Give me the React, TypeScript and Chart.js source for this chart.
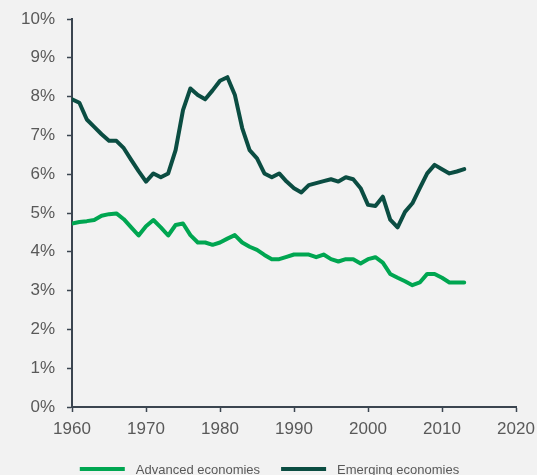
import React, { useEffect, useRef } from "react";
import { Chart, registerables } from "chart.js";

Chart.register(...registerables);

const years = [
  1960, 1961, 1962, 1963, 1964, 1965, 1966, 1967, 1968, 1969,
  1970, 1971, 1972, 1973, 1974, 1975, 1976, 1977, 1978, 1979,
  1980, 1981, 1982, 1983, 1984, 1985, 1986, 1987, 1988, 1989,
  1990, 1991, 1992, 1993, 1994, 1995, 1996, 1997, 1998, 1999,
  2000, 2001, 2002, 2003, 2004, 2005, 2006, 2007, 2008, 2009,
  2010, 2011, 2012, 2013,
];

const advanced = [
  4.73, 4.77, 4.79, 4.82, 4.93, 4.97, 4.99, 4.84, 4.63, 4.42,
  4.66, 4.82, 4.63, 4.42, 4.69, 4.73, 4.43, 4.24, 4.24, 4.18,
  4.24, 4.34, 4.43, 4.24, 4.13, 4.05, 3.92, 3.81, 3.81, 3.87,
  3.93, 3.93, 3.93, 3.86, 3.93, 3.81, 3.75, 3.81, 3.81, 3.70,
  3.81, 3.86, 3.72, 3.43, 3.33, 3.24, 3.14, 3.21, 3.43, 3.43,
  3.33, 3.21, 3.21, 3.21,
];

const emerging = [
  7.93, 7.84, 7.41, 7.22, 7.03, 6.86, 6.86, 6.67, 6.37, 6.08,
  5.81, 6.02, 5.92, 6.02, 6.62, 7.65, 8.21, 8.04, 7.93, 8.16,
  8.41, 8.5, 8.05, 7.19, 6.62, 6.41, 6.02, 5.92, 6.02, 5.81,
  5.64, 5.53, 5.72, 5.77, 5.82, 5.87, 5.81, 5.92, 5.87, 5.64,
  5.21, 5.18, 5.42, 4.83, 4.63, 5.03, 5.25, 5.64, 6.02, 6.24,
  6.13, 6.02, 6.07, 6.13,
];

const seriesNames = ["Advanced economies", "Emerging economies"];
const seriesColors = ["#00a651", "#0b4d42"];

const xTicks = [1960, 1970, 1980, 1990, 2000, 2010, 2020];
const yTicks = [0, 1, 2, 3, 4, 5, 6, 7, 8, 9, 10];

const FONT = "'Liberation Sans', Arial, Helvetica, sans-serif";
const AXIS = "#3b4550";
const TEXT = "#595959";
const BG = "#f2f2f2";

const legendPlugin = {
  id: "customLegend",
  afterDraw(chart: any) {
    const ctx = chart.ctx;
    ctx.save();
    ctx.font = `13px ${FONT}`;
    const boxW = 45;
    const gap = 11;
    const itemGap = 21;
    const items = chart.data.datasets.map((d: any) => ({
      label: d.label,
      color: d.borderColor,
      w: ctx.measureText(d.label).width,
    }));
    let total = 0;
    items.forEach((it: any, i: number) => {
      total += boxW + gap + it.w + (i < items.length - 1 ? itemGap : 0);
    });
    let x = (chart.width - total) / 2 + 1;
    const y = 469;
    items.forEach((it: any) => {
      ctx.fillStyle = it.color;
      ctx.fillRect(x, y - 2, boxW, 4);
      x += boxW + gap;
      ctx.fillStyle = TEXT;
      ctx.textBaseline = "middle";
      ctx.textAlign = "left";
      ctx.fillText(it.label, x, y + 1);
      x += it.w + itemGap;
    });
    ctx.restore();
  },
};

export default function App() {
  const ref = useRef<HTMLCanvasElement | null>(null);

  useEffect(() => {
    document.body.style.margin = "0";
    document.body.style.background = BG;
    const canvas = ref.current;
    if (!canvas) return;
    const chart = new Chart(canvas, {
      type: "line",
      data: {
        datasets: [
          {
            label: seriesNames[0],
            data: years.map((yr, i) => ({ x: yr, y: advanced[i] })),
            borderColor: seriesColors[0],
            backgroundColor: seriesColors[0],
            borderWidth: 4,
            pointRadius: 0,
            tension: 0,
            borderJoinStyle: "round",
            borderCapStyle: "round",
          },
          {
            label: seriesNames[1],
            data: years.map((yr, i) => ({ x: yr, y: emerging[i] })),
            borderColor: seriesColors[1],
            backgroundColor: seriesColors[1],
            borderWidth: 4,
            pointRadius: 0,
            tension: 0,
            borderJoinStyle: "round",
            borderCapStyle: "round",
          },
        ],
      },
      options: {
        animation: false,
        responsive: false,
        devicePixelRatio: 1,
        layout: { padding: { top: 19, left: 0, right: 21, bottom: 0 } },
        plugins: {
          legend: { display: false },
          tooltip: { enabled: false },
        },
        scales: {
          x: {
            type: "linear",
            min: xTicks[0],
            max: xTicks[xTicks.length - 1],
            afterBuildTicks: (s: any) => {
              s.ticks = xTicks.map((v) => ({ value: v }));
            },
            afterFit: (s: any) => {
              s.height = 68;
              s.paddingLeft = 0;
              s.paddingRight = 0;
            },
            ticks: {
              callback: (v: any) => String(v),
              font: { family: FONT, size: 17 },
              color: TEXT,
              padding: 7,
              maxRotation: 0,
            },
            grid: {
              display: true,
              drawOnChartArea: false,
              drawTicks: true,
              tickLength: 5,
              tickColor: AXIS,
              tickWidth: 1.5,
            },
            border: { display: true, color: AXIS, width: 2 },
          },
          y: {
            type: "linear",
            min: yTicks[0],
            max: yTicks[yTicks.length - 1],
            afterBuildTicks: (s: any) => {
              s.ticks = yTicks.map((v) => ({ value: v }));
            },
            afterFit: (s: any) => {
              s.width = 72;
              s.paddingTop = 0;
              s.paddingBottom = 0;
            },
            ticks: {
              callback: (v: any) => `${v}%`,
              font: { family: FONT, size: 17 },
              color: TEXT,
              padding: 12,
            },
            grid: {
              display: true,
              drawOnChartArea: false,
              drawTicks: true,
              tickLength: 5,
              tickColor: AXIS,
              tickWidth: 1.5,
            },
            border: { display: true, color: AXIS, width: 2 },
          },
        },
      },
      plugins: [legendPlugin],
    });
    return () => chart.destroy();
  }, []);

  return (
    <div style={{ width: 537, height: 475, background: BG }}>
      <canvas ref={ref} width={537} height={475} style={{ display: "block" }} />
    </div>
  );
}
